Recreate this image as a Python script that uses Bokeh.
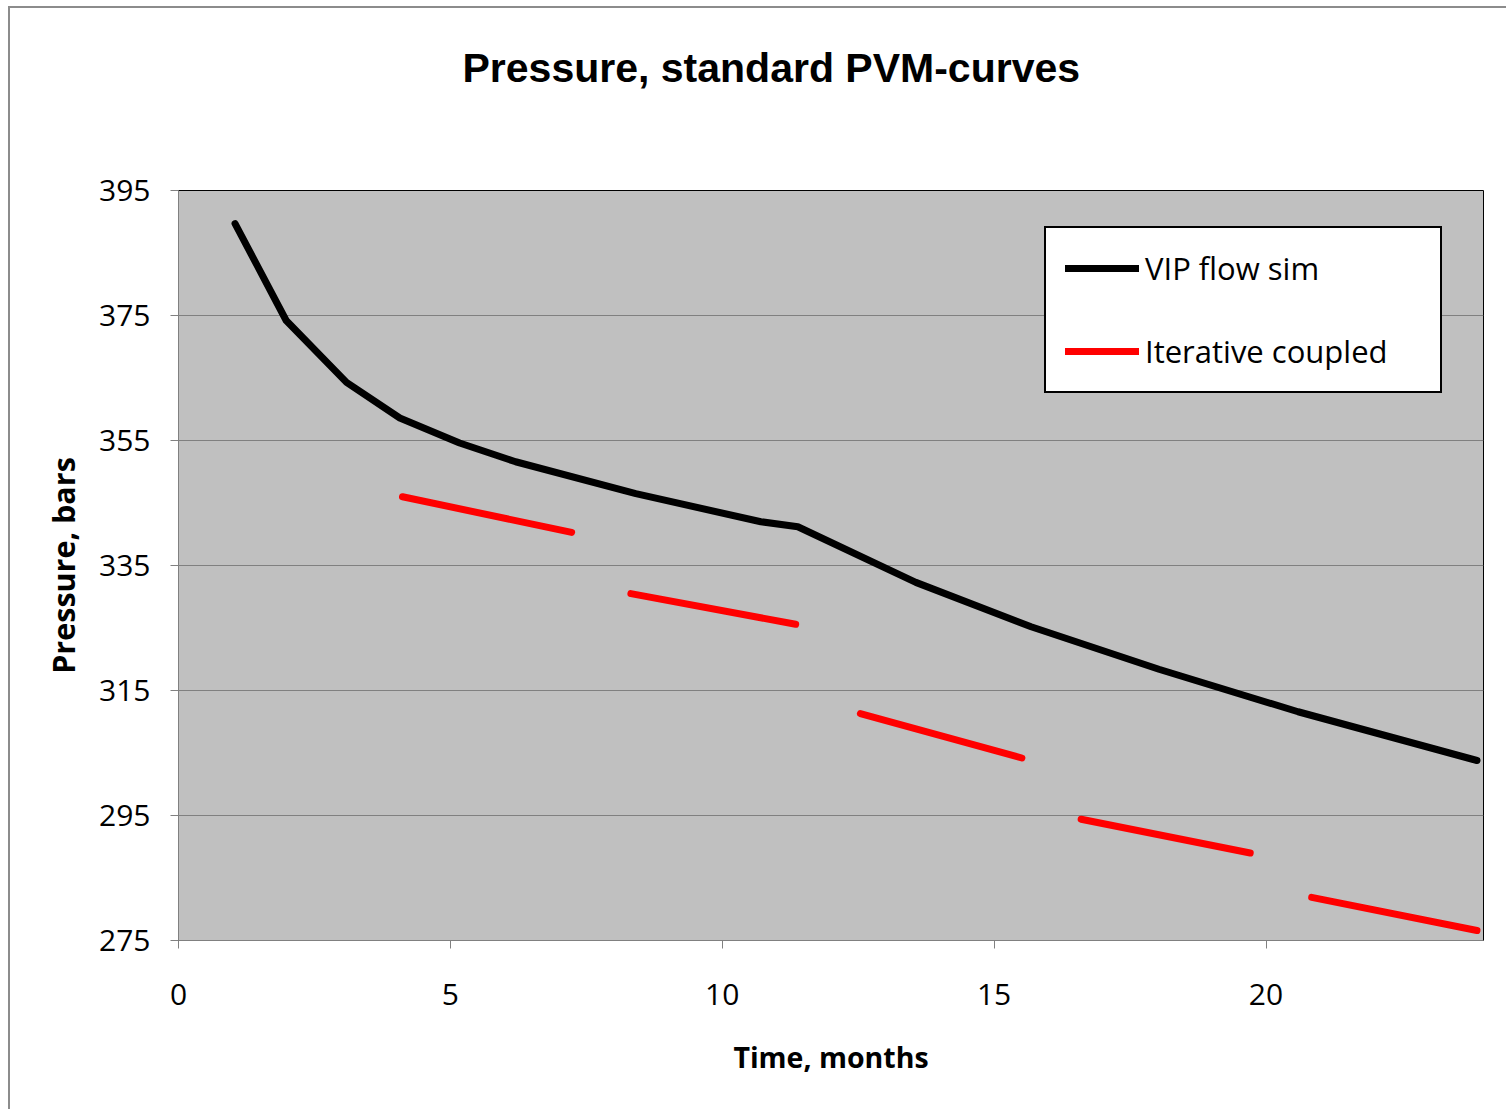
from bokeh.plotting import figure
from bokeh.models import FixedTicker, Legend, LegendItem, Range1d, Title
from bokeh.embed import file_html
from bokeh.resources import INLINE

# ---- data ----
vip_months = [1.04, 1.98, 3.09, 4.07, 5.17, 6.2, 8.41, 10.71, 11.39, 13.56, 15.68, 18.03, 20.59, 23.88]
vip_pressure = [389.7, 374.2, 364.3, 358.6, 354.6, 351.6, 346.5, 342.0, 341.2, 332.3, 325.2, 318.4, 311.6, 303.8]

iter_start_months = [4.12, 8.32, 12.54, 16.60, 20.84]
iter_start_pressure = [346.0, 330.5, 311.3, 294.4, 281.9]
iter_end_months = [7.23, 11.35, 15.51, 19.71, 23.88]
iter_end_pressure = [340.3, 325.6, 304.2, 289.0, 276.6]

x_ticks = [0, 5, 10, 15, 20]
y_ticks = [275, 295, 315, 335, 355, 375, 395]

title_text = "Pressure, standard PVM-curves"
x_label = "Time, months"
y_label = "Pressure, bars"
series_names = ["VIP flow sim", "Iterative coupled"]

FONT = "Open Sans"

p = figure(width=1498, height=1103, output_backend="svg", toolbar_location=None,
           x_range=Range1d(0, 24), y_range=Range1d(275, 395),
           min_border_left=168, min_border_right=25, min_border_top=182, min_border_bottom=171)
p.title = None
p.styles = {"margin-left": "8px", "margin-top": "6px",
            "border-left": "2px solid #8c8c8c", "border-top": "2px solid #8c8c8c"}

p.background_fill_color = "#c0c0c0"
p.border_fill_color = "white"
p.outline_line_color = "black"
p.outline_line_width = 1

# spacer between frame and title, then the title itself
p.add_layout(Title(text=" ", text_font_size="1px", standoff=63), "above")
p.add_layout(Title(text=title_text, text_font="Liberation Sans", text_font_size="41px",
                   text_font_style="bold", text_color="black", align="left",
                   standoff=68, offset=284), "above")

p.xgrid.grid_line_color = None
p.ygrid.grid_line_color = "#808080"
p.ygrid.grid_line_width = 1

p.xaxis.ticker = FixedTicker(ticks=x_ticks)
p.yaxis.ticker = FixedTicker(ticks=y_ticks)
for ax in (p.xaxis[0], p.yaxis[0]):
    ax.axis_line_color = "#808080"
    ax.major_tick_line_color = "#808080"
    ax.major_tick_in = 0
    ax.major_tick_out = 8
    ax.minor_tick_line_color = None
    ax.major_label_text_font = FONT
    ax.major_label_text_font_size = "30px"
    ax.major_label_text_color = "black"
    ax.axis_label_text_font = FONT
    ax.axis_label_text_font_style = "bold"
    ax.axis_label_text_color = "black"

p.xaxis.axis_label_text_font_size = "28.5px"
p.yaxis.axis_label_text_font_size = "30.5px"
p.xaxis.axis_label = x_label
p.yaxis.axis_label = y_label
p.xaxis.major_label_standoff = 35
p.yaxis.major_label_standoff = 20
p.xaxis.axis_label_standoff = 30
p.yaxis.axis_label_standoff = 12

r_vip = p.line(vip_months, vip_pressure, line_color="black", line_width=7, line_join="round", line_cap="round")
r_iter = p.segment(iter_start_months, iter_start_pressure, iter_end_months, iter_end_pressure,
                   line_color="#ff0000", line_width=7, line_cap="round")

legend = Legend(items=[LegendItem(label=series_names[0], renderers=[r_vip]),
                       LegendItem(label=series_names[1], renderers=[r_iter])],
                location=(866, 547), orientation="vertical",
                background_fill_color="white", background_fill_alpha=1,
                border_line_color="black", border_line_width=2, border_line_alpha=1,
                label_text_font=FONT, label_text_font_size="31px", label_text_color="black",
                glyph_width=74, glyph_height=34, label_height=34, label_standoff=6,
                spacing=41, padding=19, margin=0, label_width=276)
p.add_layout(legend, "center")

open("out.html", "w").write(file_html(p, INLINE))
